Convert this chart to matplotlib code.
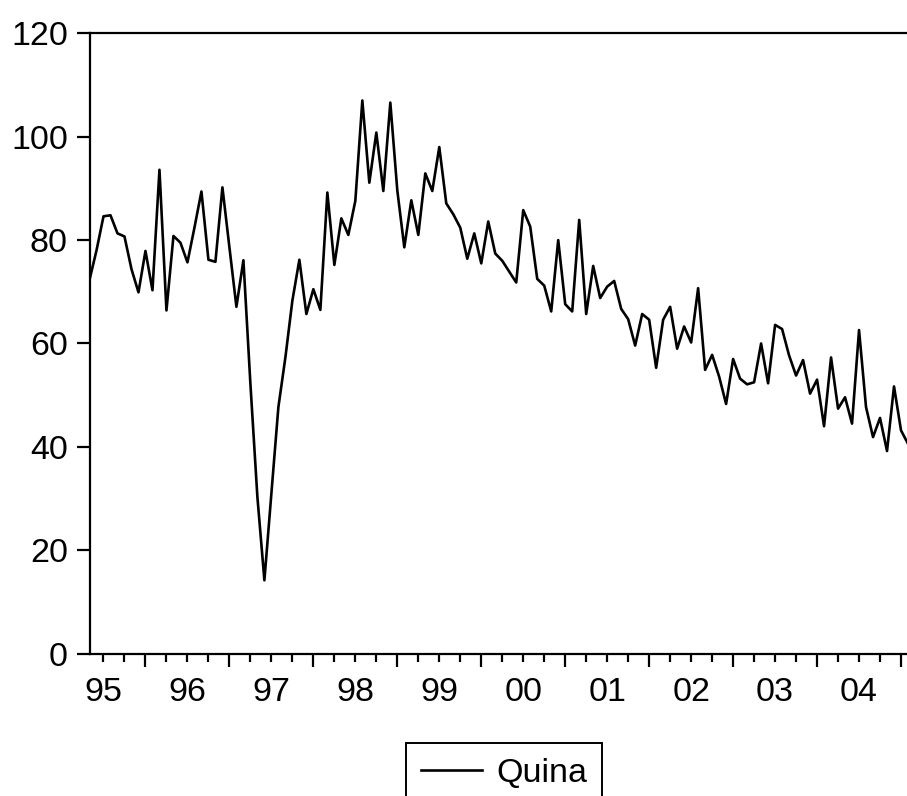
import numpy as np
import pandas as pd
import matplotlib
matplotlib.use("Agg")
import matplotlib.pyplot as plt
from matplotlib.ticker import FixedLocator, FixedFormatter, NullFormatter

plt.rcParams['font.family'] = ['Liberation Sans', 'DejaVu Sans']

# monthly index, May 1995 onwards
start = '1995-05'
quina = [72.3, 78.0, 84.6, 84.8, 81.3, 80.7, 74.4, 69.9, 77.9, 70.3,
         93.6, 66.4, 80.8, 79.5, 75.7, 82.4, 89.4, 76.2, 75.8, 90.2,
         78.6, 67.1, 76.1, 52.2, 30.3, 14.2, 31.0, 47.7, 57.3, 68.3,
         76.2, 65.7, 70.5, 66.5, 89.2, 75.2, 84.2, 81.0, 87.6, 107.0,
         91.1, 100.8, 89.5, 106.6, 89.6, 78.6, 87.7, 81.0, 92.9, 89.5,
         98.0, 87.1, 85.0, 82.4, 76.4, 81.3, 75.5, 83.6, 77.4, 76.0,
         73.9, 71.8, 85.8, 82.6, 72.5, 71.2, 66.2, 80.0, 67.6, 66.2,
         83.9, 65.7, 75.0, 68.8, 71.0, 72.1, 66.7, 64.7, 59.6, 65.7,
         64.6, 55.3, 64.6, 67.1, 59.0, 63.3, 60.2, 70.7, 54.9, 57.8,
         53.6, 48.3, 57.0, 53.2, 52.1, 52.5, 60.0, 52.3, 63.6, 62.8,
         57.7, 53.8, 56.8, 50.3, 53.0, 44.0, 57.3, 47.4, 49.6, 44.5,
         62.6, 47.7, 41.9, 45.6, 39.2, 51.7, 43.2, 40.6]
yticks = [0, 20, 40, 60, 80, 100, 120]

months = pd.period_range(start, periods=len(quina), freq='M')
x = np.arange(len(quina))
mon = months.month.values
jan = x[mon == 1]
qmask = np.isin(mon, [4, 7, 10])
quarter = x[qmask]
qlabels = ['%02d' % (y % 100) if m == 7 else ''
           for y, m in zip(months.year.values[qmask], mon[qmask])]

W, H = 907, 796
fig = plt.figure(figsize=(W / 100, H / 100), dpi=100)
ax = fig.add_axes([89.5 / W, (H - 653.7) / H, (915 - 89.5) / W, (653.7 - 33.3) / H])

ax.plot(x, quina, color='black', lw=1.9, label='Quina')

ax.set_xlim(0, 118)
ax.set_ylim(0, 120)
ax.set_yticks(yticks)

# long ticks at January, short ticks at the other quarters, year under July
ax.xaxis.set_major_locator(FixedLocator(jan))
ax.xaxis.set_major_formatter(NullFormatter())
ax.xaxis.set_minor_locator(FixedLocator(quarter))
ax.xaxis.set_minor_formatter(FixedFormatter(qlabels))

ax.tick_params(axis='x', which='major', direction='out', length=9.5, width=1.6)
ax.tick_params(axis='x', which='minor', direction='out', length=5.5, width=1.6,
               pad=11, labelsize=24.5)
ax.tick_params(axis='y', direction='out', length=9.5, width=1.6, pad=6,
               labelsize=24.5)

for s in ['left', 'top', 'bottom', 'right']:
    ax.spines[s].set_linewidth(1.6)

fig.legend(loc='upper center', bbox_to_anchor=(504 / W, 1 - 743 / H),
           fontsize=24.5, handlelength=1.8, handletextpad=0.4, borderpad=0.45,
           borderaxespad=0, fancybox=False, framealpha=1, edgecolor='black')
fig.legends[0].get_frame().set_linewidth(1.4)

fig.savefig('out.png', dpi=100)
